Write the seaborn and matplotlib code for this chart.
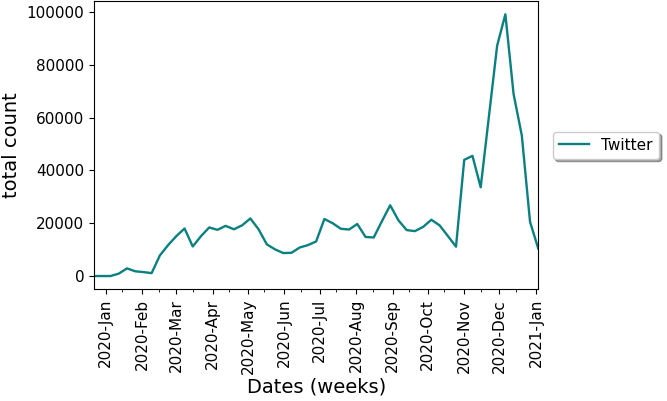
import pandas as pd
import matplotlib
matplotlib.use("Agg")
import matplotlib.pyplot as plt
import matplotlib.dates as mdates
import seaborn as sns

# ================================
# Data (weekly totals)
# ================================
week_start = "2019-12-22"
n_weeks = 55
twitter_counts = [
    0, 0, 0, 900, 2900, 1800, 1500, 1100, 7800, 11700,
    15100, 18000, 11200, 15100, 18400, 17500, 19000, 17700, 19200, 21800,
    17700, 12000, 10100, 8700, 8800, 10800, 11700, 13100, 21600, 20000,
    17900, 17600, 19700, 14800, 14600, 20800, 26800, 21100, 17400, 17000,
    18600, 21300, 19200, 15200, 11100, 44000, 45500, 33600, 60400, 87200,
    99100, 68900, 53200, 20500, 10400,
]
platform = "Twitter"

dates = pd.date_range(week_start, periods=n_weeks, freq="W-SUN")
df = pd.DataFrame({"date": dates, "count": twitter_counts, "platform": platform})

# ================================
# Plot
# ================================
fig, ax = plt.subplots(figsize=(6.67, 4.01), dpi=100)
fig.subplots_adjust(left=0.141, right=0.807, top=0.997, bottom=0.279)

sns.lineplot(data=df, x="date", y="count", hue="platform",
             palette=["#0a8080"], linewidth=1.7, ax=ax)

ax.set_xlim(dates[0], dates[-1])
ax.xaxis.set_major_locator(mdates.MonthLocator())
ax.xaxis.set_minor_locator(mdates.MonthLocator(bymonthday=15))
ax.xaxis.set_major_formatter(mdates.DateFormatter("%Y-%b"))
ax.tick_params(axis="both", which="major", labelsize=11)
plt.setp(ax.get_xticklabels(), rotation=90)

ax.set_xlabel("Dates (weeks)", fontsize=14, labelpad=2)
ax.set_ylabel("total count", fontsize=14)

ax.legend(loc="center left", bbox_to_anchor=(1.015, 0.5), fontsize=11,
          shadow=True, fancybox=True, framealpha=1, title=None)

plt.savefig("out.png", dpi=100)
plt.close()
